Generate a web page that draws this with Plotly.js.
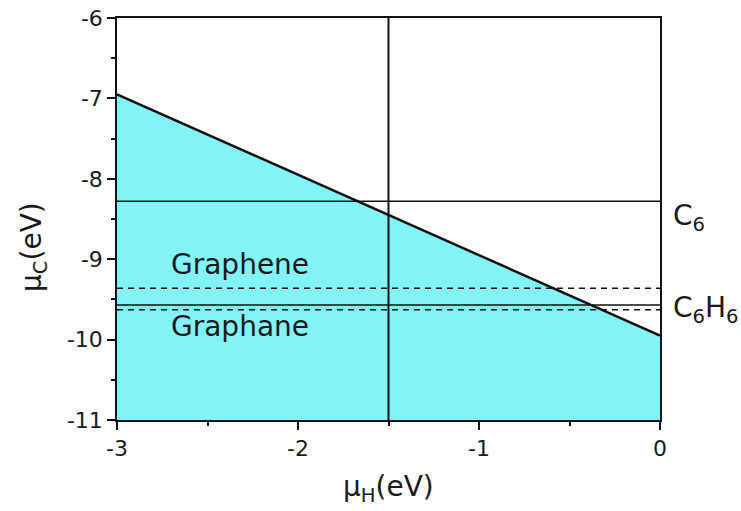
<!DOCTYPE html>
<html>
<head>
<meta charset="utf-8">
<script src="https://cdn.plot.ly/plotly-3.0.1.min.js"></script>
<style>html,body{margin:0;padding:0;background:#fff;}#chart{width:741px;height:511px;}</style>
</head>
<body>
<div id="chart"></div>
<script>
// Data
const muH = [-3, 0];                 // x extent (eV)
const boundaryMuC = [-6.95, -9.95];  // stability boundary
const baseMuC = [-11, -11];          // bottom of region
const vertX = [-1.5, -1.5];
const vertY = [-11, -6];
const c6Level = [-8.28, -8.28];
const c6h6Level = [-9.57, -9.57];
const grapheneDash = [-9.36, -9.36];
const graphaneDash = [-9.63, -9.63];
const xTickVals = [-3, -2, -1, 0];
const xTickText = ['-3', '-2', '-1', '0'];
const yTickVals = [-11, -10, -9, -8, -7, -6];
const yTickText = ['-11', '-10', '-9', '-8', '-7', '-6'];

const FONT = 'DejaVu Sans';
const TXT = '#1a1a1a';

const traces = [
  {x: muH, y: baseMuC, mode: 'lines', line: {width: 0, color: 'rgba(0,0,0,0)'}, hoverinfo: 'skip', showlegend: false},
  {x: muH, y: boundaryMuC, mode: 'lines', fill: 'tonexty', fillcolor: '#82F4F8', line: {color: '#111', width: 2.5}, showlegend: false},
  {x: muH, y: c6Level, mode: 'lines', line: {color: '#111', width: 1.5}, showlegend: false},
  {x: muH, y: c6h6Level, mode: 'lines', line: {color: '#111', width: 1.5}, showlegend: false},
  {x: muH, y: grapheneDash, mode: 'lines', line: {color: '#111', width: 1.5, dash: '6px,5px'}, showlegend: false},
  {x: muH, y: graphaneDash, mode: 'lines', line: {color: '#111', width: 1.5, dash: '6px,5px'}, showlegend: false},
  {x: vertX, y: vertY, mode: 'lines', line: {color: '#111', width: 2}, showlegend: false}
];

const axisCommon = {
  tickmode: 'array',
  ticks: 'outside', ticklen: 8, tickwidth: 1.5, tickcolor: '#111',
  minor: {ticks: 'outside', ticklen: 4, tickwidth: 1.5, tickcolor: '#111', dtick: 0.5},
  showline: true, linecolor: '#111', linewidth: 1.5, mirror: true,
  showgrid: false, zeroline: false,
  tickfont: {size: 22, family: FONT, color: TXT}
};

const layout = {
  width: 741, height: 511,
  margin: {l: 117, r: 81, t: 18, b: 91},
  paper_bgcolor: '#fff', plot_bgcolor: '#fff',
  font: {family: FONT, color: TXT, size: 22},
  showlegend: false,
  xaxis: Object.assign({range: [-3, 0], tickvals: xTickVals, ticktext: xTickText}, axisCommon),
  yaxis: Object.assign({range: [-11, -6], tickvals: yTickVals, ticktext: yTickText}, axisCommon),
  annotations: [
    {xref: 'x', yref: 'y', x: -2.32, y: -9.06, text: 'Graphene', showarrow: false, font: {size: 28, family: FONT, color: TXT}},
    {xref: 'x', yref: 'y', x: -2.32, y: -9.84, text: 'Graphane', showarrow: false, font: {size: 28, family: FONT, color: TXT}},
    {xref: 'paper', yref: 'y', x: 1.02, y: c6Level[0], xanchor: 'left', yanchor: 'top', yshift: 4, text: 'C<sub>6</sub>', showarrow: false, font: {size: 28, family: FONT, color: TXT}},
    {xref: 'paper', yref: 'y', x: 1.02, y: c6h6Level[0], xanchor: 'left', yanchor: 'middle', yshift: -4, text: 'C<sub>6</sub>H<sub>6</sub>', showarrow: false, font: {size: 28, family: FONT, color: TXT}},
    {xref: 'paper', yref: 'paper', x: 0.5, y: -0.17, xanchor: 'center', yanchor: 'middle', text: 'μ<sub>H</sub>(eV)', showarrow: false, font: {size: 28, family: FONT, color: TXT}},
    {xref: 'paper', yref: 'paper', x: -0.155, y: 0.43, xanchor: 'center', yanchor: 'middle', textangle: -90, text: 'μ<sub>C</sub>(eV)', showarrow: false, font: {size: 28, family: FONT, color: TXT}}
  ]
};

Plotly.newPlot('chart', traces, layout, {displayModeBar: false});
</script>
</body>
</html>
